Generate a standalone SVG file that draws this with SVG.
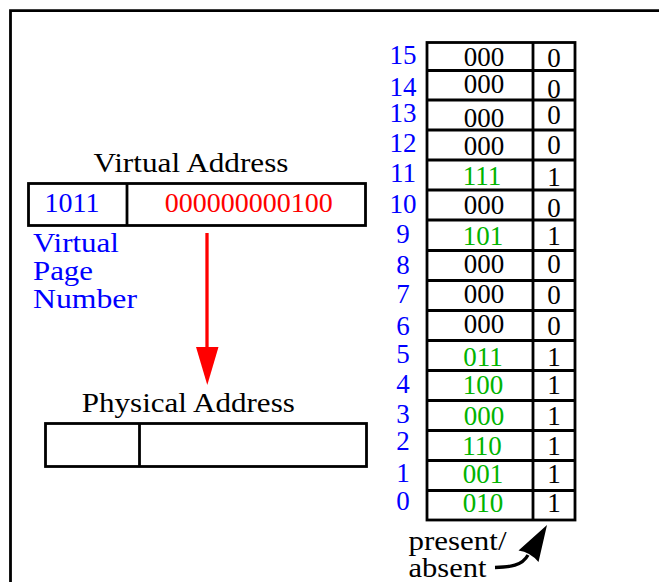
<svg xmlns="http://www.w3.org/2000/svg" width="659" height="582" viewBox="0 0 659 582">
<style>
text{font-family:"Liberation Serif","Times New Roman",serif;font-size:28px}
#page-table text{font-size:27px}
.c{text-anchor:middle}
.blue{fill:#0000ff}
.green{fill:#00b400}
.red{fill:#ff0000}
.blk{fill:#000}
.box{fill:#fff;stroke:#000;stroke-width:2.8}
.ln{stroke:#000;stroke-width:2.8;fill:none}
</style>
<rect width="659" height="582" fill="#fff"/>
<g id="frame"><path class="ln" d="M10.5 590 V10.7 H670"/></g>

<g id="virtual-address">
<text x="191" y="171.7" class="c blk" textLength="195" lengthAdjust="spacingAndGlyphs">Virtual Address</text>
<rect class="box" x="28.5" y="183.5" width="337" height="42"/>
<line class="ln" x1="127" y1="183.5" x2="127" y2="225.5"/>
<text x="72" y="211.7" class="c blue">1011</text>
<text x="248.7" y="211.7" class="c red">000000000100</text>
</g>

<g id="vpn-label" class="blue">
<text x="33" y="251.7" textLength="86" lengthAdjust="spacingAndGlyphs">Virtual</text>
<text x="33" y="280" textLength="60" lengthAdjust="spacingAndGlyphs">Page</text>
<text x="33" y="307.7" textLength="104" lengthAdjust="spacingAndGlyphs">Number</text>
</g>

<g id="physical-address">
<text x="188.3" y="412.3" class="c blk" textLength="213" lengthAdjust="spacingAndGlyphs">Physical Address</text>
<rect class="box" x="45.5" y="423.5" width="321" height="43"/>
<line class="ln" x1="139.5" y1="423.5" x2="139.5" y2="466.5"/>
</g>

<g id="page-table">
<rect class="box" x="427" y="42.5" width="148" height="477.5"/>
<path class="ln" d="M533 42.5 V520 M427 70.5 H575 M427 100 H575 M427 130 H575 M427 160 H575 M427 190 H575 M427 220 H575 M427 250.5 H575 M427 280.5 H575 M427 310.5 H575 M427 340.5 H575 M427 370.5 H575 M427 400.5 H575 M427 430.5 H575 M427 460.5 H575 M427 490.5 H575"/>
<g class="blue c">
<text x="403" y="64.3">15</text>
<text x="403" y="96">14</text>
<text x="403" y="121.7">13</text>
<text x="403" y="151.7">12</text>
<text x="403" y="181.7">11</text>
<text x="403" y="213.3">10</text>
<text x="403" y="243.3">9</text>
<text x="403" y="274.3">8</text>
<text x="403" y="303.3">7</text>
<text x="403" y="335">6</text>
<text x="403" y="363.3">5</text>
<text x="403" y="393.3">4</text>
<text x="403" y="423.3">3</text>
<text x="403" y="450">2</text>
<text x="403" y="481.7">1</text>
<text x="403" y="510">0</text>
</g>
<g class="c">
<text x="484" y="66" class="blk">000</text>
<text x="484" y="93.3" class="blk">000</text>
<text x="484" y="126.7" class="blk">000</text>
<text x="484" y="155" class="blk">000</text>
<text x="482" y="185" class="green">111</text>
<text x="484" y="214.3" class="blk">000</text>
<text x="483" y="245" class="green">101</text>
<text x="484" y="273.3" class="blk">000</text>
<text x="484" y="303.3" class="blk">000</text>
<text x="484" y="333.3" class="blk">000</text>
<text x="483" y="365.7" class="green">011</text>
<text x="483" y="394" class="green">100</text>
<text x="484" y="425" class="green">000</text>
<text x="482" y="455" class="green">110</text>
<text x="483" y="483.3" class="green">001</text>
<text x="483" y="511.7" class="green">010</text>
</g>
<g class="c blk">
<text x="554" y="67.3">0</text>
<text x="554" y="97.7">0</text>
<text x="554" y="124.3">0</text>
<text x="554" y="154.3">0</text>
<text x="554" y="185.7">1</text>
<text x="554" y="217.3">0</text>
<text x="554" y="245">1</text>
<text x="554" y="273.3">0</text>
<text x="554" y="304.3">0</text>
<text x="554" y="335">0</text>
<text x="554" y="365.7">1</text>
<text x="554" y="394">1</text>
<text x="554" y="425">1</text>
<text x="554" y="455">1</text>
<text x="554" y="483.3">1</text>
<text x="554" y="511.7">1</text>
</g>
</g>

<g id="present-label" class="blk">
<text x="408.5" y="550" textLength="98" lengthAdjust="spacingAndGlyphs">present/</text>
<text x="408.5" y="576.7" textLength="78" lengthAdjust="spacingAndGlyphs">absent</text>
</g>

<g id="connectors">
<line x1="207" y1="233" x2="207" y2="349" stroke="#ff0000" stroke-width="3.3"/>
<polygon points="196,347 218.5,347 207.3,385" fill="#ff0000"/>
<path d="M495 567.5 C510 567 522 566 528 555" fill="none" stroke="#000" stroke-width="3.3"/>
<path d="M547 525 L518.5 550.5 Q530 552 538.5 562 Z" fill="#000"/>
</g>
</svg>
